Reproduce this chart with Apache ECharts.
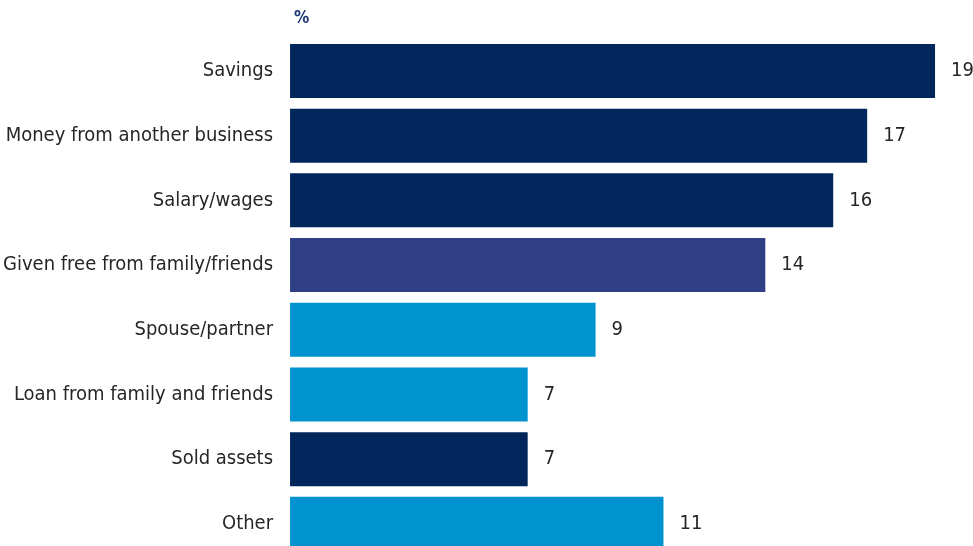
<!DOCTYPE html>
<html>
<head>
<meta charset="utf-8">
<script src="https://cdn.jsdelivr.net/npm/echarts@6/dist/echarts.min.js"></script>
<style>
  html, body { margin: 0; padding: 0; background: #ffffff; overflow: hidden; }
  #chart { width: 973px; height: 560px; }
</style>
</head>
<body>
<div id="chart"></div>
<script>
// Sources of funding (percent of respondents)
const categories = [
  'Savings',
  'Money from another business',
  'Salary/wages',
  'Given free from family/friends',
  'Spouse/partner',
  'Loan from family and friends',
  'Sold assets',
  'Other'
];
const values = [19, 17, 16, 14, 9, 7, 7, 11];
const barColors = ['#00265b', '#00265b', '#00265b', '#2e3f86', '#0093d0', '#0093d0', '#00265b', '#0093d0'];
const unitLabel = '%';

const font = '"Liberation Sans Narrow", "DejaVu Sans Condensed", "Roboto", sans-serif';

const chart = echarts.init(document.getElementById('chart'), null, { renderer: 'canvas' });

chart.setOption({
  animation: false,
  backgroundColor: '#ffffff',
  graphic: [{
    type: 'text',
    left: 294,
    top: 10,
    style: {
      text: unitLabel,
      fill: '#1f3a78',
      font: 'bold 17px ' + font
    }
  }],
  grid: {
    left: 289,
    width: 680,
    top: 38.6,
    height: 517.6,
    containLabel: false
  },
  xAxis: {
    type: 'value',
    min: 0,
    max: 20,
    show: false
  },
  yAxis: {
    type: 'category',
    inverse: true,
    data: categories,
    axisLine: { show: false },
    axisTick: { show: false },
    axisLabel: {
      margin: 17,
      color: '#262626',
      fontSize: 20,
      fontFamily: font
    }
  },
  series: [{
    type: 'bar',
    data: values.map((v, i) => ({ value: v, itemStyle: { color: barColors[i] } })),
    barWidth: 54,
    label: {
      show: true,
      position: 'right',
      distance: 16,
      color: '#262626',
      fontSize: 20,
      fontFamily: font
    }
  }]
});
</script>
</body>
</html>
